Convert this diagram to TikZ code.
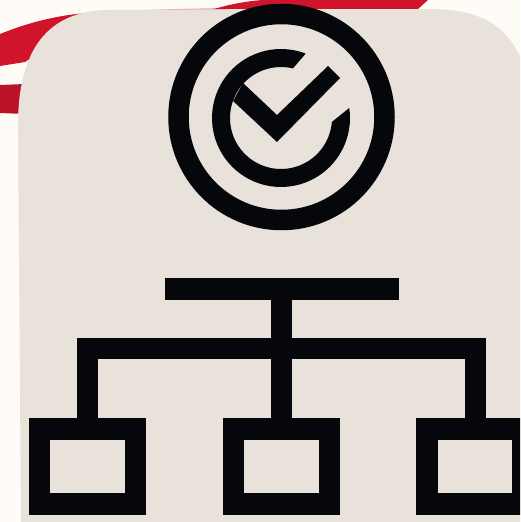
\documentclass[tikz,border=0pt]{standalone}
\definecolor{paper}{HTML}{FFFCF7}
\definecolor{panel}{HTML}{E9E2DB}
\definecolor{ink}{HTML}{06070A}
\definecolor{swoosh}{HTML}{D0142C}
\tikzset{
    bar/.style={fill=ink, inner sep=0pt, minimum width=234pt, minimum height=22pt},
    leaf/.style={draw=ink, inner sep=0pt, line width=21.5pt, minimum width=96pt, minimum height=75pt},
    ring/.style={draw=ink, circle, inner sep=0pt, line width=20.5pt, minimum size=206pt},
    wire/.style={draw=ink, line width=21pt}
}
\begin{document}
\begin{tikzpicture}[x=1pt, y=-1pt]
    \clip (0,0) rectangle (520,522);
    \fill[paper] (0,0) rectangle (520,522);
    % Red strokes behind the panel
    \fill[swoosh] (0,34) .. controls (30,22) and (60,14) .. (100,12) -- (60,40) -- (25,62) -- (0,66) -- cycle;
    \fill[swoosh!90!black] (0,85) -- (25,84) -- (25,114) -- (0,113) -- cycle;
    \fill[swoosh!35!paper] (85,13) .. controls (130,10) and (170,9) .. (225,8) -- (225,10) -- (85,15) -- cycle;
    \fill[swoosh] (214,9) .. controls (228,5) and (240,2) .. (262,0) -- (428,0) -- (418,9) -- cycle;
    % Panel
    \fill[panel] (18,130) .. controls (17,60) and (40,10) .. (110,10)
        -- (430,9) .. controls (480,9) and (505,25) .. (521,58)
        -- (521,523) -- (21,523) -- cycle;
    % Badge
    \node[ring] (badge) at (281.5,117) {};
    \fill[ink] plot[domain=-76.5:-355.5, samples=70] ({281+51*cos(\x)},{118+51*sin(\x)})
        -- plot[domain=-368.4:-69, samples=70] ({281+69*cos(\x)},{118+69*sin(\x)}) -- cycle;
    \fill[ink] (233,101) -- (243,83) -- (277,115) -- (328,66) -- (340,78) -- (277,142) -- cycle;
    % Tree
    \node[bar] (top) at (281.5,289) {};
    \foreach \name/\xx in {left/87.5, mid/281.5, right/475}
        \node[leaf] (\name) at (\xx,466.5) {};
    \coordinate (hubleft) at (87.5,348.5);
    \coordinate (hubright) at (475,348.5);
    \draw[wire] (top) -- (mid);
    \draw[wire, line cap=rect] (hubleft) -- (hubright);
    \draw[wire] (hubleft) -- (left);
    \draw[wire] (hubright) -- (right);
\end{tikzpicture}
\end{document}
